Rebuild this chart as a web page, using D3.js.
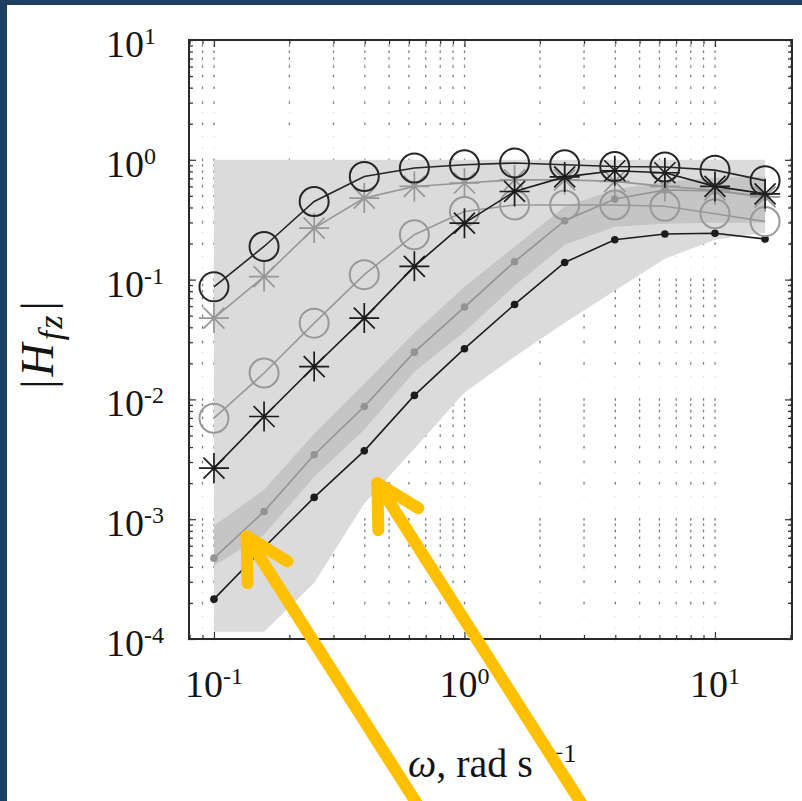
<!DOCTYPE html>
<html>
<head>
<meta charset="utf-8">
<script src="https://cdn.jsdelivr.net/npm/d3@7"></script>
<style>
  body { margin: 0; background: #fff; }
  svg { display: block; }
</style>
</head>
<body>
<div id="chart"></div>
<script>
'use strict';

// frequency points, rad/s
const omega = [0.1, 0.1585, 0.2512, 0.3981, 0.631, 1, 1.585, 2.512, 3.981, 6.31, 10, 15.85];

// |H_fz| for each curve
const blackCircles = [0.087, 0.189, 0.449, 0.726, 0.853, 0.91, 0.94, 0.91, 0.88, 0.87, 0.82, 0.67];
const grayStars = [0.0477, 0.106, 0.269, 0.479, 0.599, 0.64, 0.68, 0.68, 0.66, 0.60, 0.56, 0.49];
const grayCircles = [0.00697, 0.0166, 0.0433, 0.110, 0.237, 0.37, 0.42, 0.42, 0.42, 0.41, 0.355, 0.305];
const blackStars = [0.00267, 0.0072, 0.0188, 0.0477, 0.129, 0.296, 0.544, 0.72, 0.81, 0.78, 0.60, 0.52];
const grayDots = [0.000473, 0.00116, 0.00345, 0.00873, 0.0248, 0.0590, 0.141, 0.31, 0.47, 0.56, 0.55, 0.49];
const blackDots = [0.000215, 0.00058, 0.00152, 0.00372, 0.0108, 0.0265, 0.0620, 0.139, 0.215, 0.24, 0.244, 0.218];

// shaded envelopes
const lightBandHigh = [1, 1, 1, 1, 1, 1, 1, 1, 1, 1, 1, 1];
const lightBandLow = [0.000115, 0.000115, 0.000294, 0.00135, 0.00387, 0.0114, 0.0227, 0.0436, 0.0806, 0.149, 0.215, 0.246];
const darkBandHigh = [0.00088, 0.00176, 0.00516, 0.0135, 0.036, 0.087, 0.188, 0.405, 0.562, 0.655, 0.708, 0.721];
const darkBandLow = [0.000408, 0.000741, 0.00226, 0.00557, 0.0170, 0.0367, 0.0887, 0.195, 0.276, 0.292, 0.298, 0.298];

// tick labels (powers of ten)
const xTickExponents = ['-1', '0', '1'];
const yTickExponents = ['-4', '-3', '-2', '-1', '0', '1'];

// arrow tips (annotation), in data units
const arrowTips = [
    { w: 0.135, h: 0.00072 },
    { w: 0.449, h: 0.0020 },
];

const settings = {
    width: 802,
    height: 801,
    elId: '#chart',
};

const plot = { left: 189, right: 792, top: 40, bottom: 639 };
const serif = '"Liberation Serif", "Times New Roman", serif';

const svg = d3.select(settings.elId)
    .append('svg')
    .attr('width', settings.width)
    .attr('height', settings.height);

// frame
svg.append('rect')
    .attr('width', settings.width)
    .attr('height', settings.height)
    .attr('fill', '#1f3f60');
svg.append('rect')
    .attr('x', 7).attr('y', 5)
    .attr('width', settings.width - 7)
    .attr('height', settings.height - 5)
    .attr('fill', '#fff');

const x = d3.scaleLog().domain([0.0795, 20.3]).range([plot.left, plot.right]);
const y = d3.scaleLog().domain([1e-4, 10]).range([plot.bottom, plot.top]);

const isMajor = v => Math.abs(Math.log10(v) - Math.round(Math.log10(v))) < 1e-6;

// dotted grid: faint dotted lines, the dots showing mostly where they cross
const grid = svg.append('g').attr('class', 'grid');
grid.selectAll('.gx')
    .data(x.ticks())
    .enter().append('line')
    .attr('x1', d => x(d)).attr('x2', d => x(d))
    .attr('y1', plot.top).attr('y2', plot.bottom)
    .attr('stroke', '#c4c4c4')
    .attr('stroke-width', 0.8)
    .attr('stroke-dasharray', '1,11');
const cross = d3.cross(x.ticks(), y.ticks());
grid.selectAll('.gd')
    .data(cross)
    .enter().append('rect')
    .attr('x', d => x(d[0]) - 0.6)
    .attr('y', d => y(d[1]) - 1.2)
    .attr('width', 1.3)
    .attr('height', 2.4)
    .attr('fill', '#7c7c7c');

// envelopes
const band = (lo, hi) => d3.area()
    .x((d, i) => x(omega[i]))
    .y0((d, i) => y(lo[i]))
    .y1((d, i) => y(hi[i]));

svg.append('path')
    .attr('d', band(lightBandLow, lightBandHigh)(omega))
    .attr('fill', '#dbdbdb');
svg.append('path')
    .attr('d', band(darkBandLow, darkBandHigh)(omega))
    .attr('fill', '#c5c5c5');

// curves
const series = [
    { values: grayDots, color: '#939393', marker: 'dot' },
    { values: blackDots, color: '#1c1c1c', marker: 'dot' },
    { values: grayCircles, color: '#989898', marker: 'circle' },
    { values: grayStars, color: '#979797', marker: 'star' },
    { values: blackStars, color: '#1c1c1c', marker: 'star' },
    { values: blackCircles, color: '#262626', marker: 'circle' },
];

const line = d3.line()
    .x((d, i) => x(omega[i]))
    .y(d => y(d));

const starPath = 'M-15,0H15M0,-15V15M-10.5,-10.5L10.5,10.5M-10.5,10.5L10.5,-10.5';

series.forEach(s => {
    const g = svg.append('g');
    g.append('path')
        .attr('d', line(s.values))
        .attr('fill', 'none')
        .attr('stroke', s.color)
        .attr('stroke-width', 1.6);
    const pts = g.selectAll('.pt')
        .data(s.values)
        .enter()
        .append('g')
        .attr('transform', (d, i) => `translate(${x(omega[i])},${y(d)})`);
    if (s.marker === 'circle') {
        pts.append('circle').attr('r', 14.5)
            .attr('fill', 'none').attr('stroke', s.color).attr('stroke-width', 2);
    } else if (s.marker === 'star') {
        pts.append('path').attr('d', starPath)
            .attr('fill', 'none').attr('stroke', s.color).attr('stroke-width', 1.7);
    } else {
        pts.append('circle').attr('r', 3.8).attr('fill', s.color);
    }
});

// ticks on all four sides
const tickLen = d => isMajor(d) ? 7 : 4;
const sides = [
    { axis: d3.axisBottom(x).tickValues(x.ticks()), t: `translate(0,${plot.bottom})`, sign: -1, dim: 'y2' },
    { axis: d3.axisTop(x).tickValues(x.ticks()), t: `translate(0,${plot.top})`, sign: 1, dim: 'y2' },
    { axis: d3.axisLeft(y).tickValues(y.ticks()), t: `translate(${plot.left},0)`, sign: 1, dim: 'x2' },
    { axis: d3.axisRight(y).tickValues(y.ticks()), t: `translate(${plot.right},0)`, sign: -1, dim: 'x2' },
];
sides.forEach(s => {
    const g = svg.append('g')
        .attr('transform', s.t)
        .call(s.axis.tickFormat(''));
    g.select('.domain').remove();
    g.selectAll('.tick line')
        .attr(s.dim, d => s.sign * tickLen(d))
        .attr('stroke', '#333')
        .attr('stroke-width', 1.2);
});

// axes box
svg.append('rect')
    .attr('x', plot.left).attr('y', plot.top)
    .attr('width', plot.right - plot.left)
    .attr('height', plot.bottom - plot.top)
    .attr('fill', 'none')
    .attr('stroke', '#2a2a2a')
    .attr('stroke-width', 2);

// tick labels
const labels = svg.append('g')
    .attr('font-family', serif)
    .attr('fill', '#141414');
yTickExponents.forEach(e => {
    const t = labels.append('text')
        .attr('x', 106)
        .attr('y', y(Math.pow(10, +e)) + 17)
        .attr('font-size', 38);
    t.append('tspan').text('10');
    t.append('tspan').text(e).attr('font-size', 24).attr('dy', -13);
});
xTickExponents.forEach(e => {
    const t = labels.append('text')
        .attr('x', x(Math.pow(10, +e)))
        .attr('y', 697)
        .attr('text-anchor', 'middle')
        .attr('font-size', 38);
    t.append('tspan').text('10');
    t.append('tspan').text(e).attr('font-size', 24).attr('dy', -13);
});

// axis titles
const xt = svg.append('text')
    .attr('x', 408)
    .attr('y', 777)
    .attr('font-family', serif)
    .attr('font-size', 40)
    .attr('fill', '#141414');
xt.append('tspan').text('\u03c9').attr('font-style', 'italic');
xt.append('tspan').text(', rad s');
xt.append('tspan').text('\u22121').attr('font-size', 26).attr('dx', 16).attr('dy', -15);

const yt = svg.append('text')
    .attr('transform', 'translate(53,345) rotate(-90)')
    .attr('text-anchor', 'middle')
    .attr('font-family', serif)
    .attr('font-size', 46)
    .attr('fill', '#141414');
yt.append('tspan').text('|');
yt.append('tspan').text('H').attr('font-style', 'italic').attr('dx', 3);
yt.append('tspan').text('f').attr('font-style', 'italic').attr('font-size', 34).attr('dy', 9).attr('dx', 3);
yt.append('tspan').text('z').attr('font-style', 'italic').attr('font-size', 34).attr('dx', 2);
yt.append('tspan').text('|').attr('dy', -9).attr('dx', 5);

// yellow arrows
const arrows = svg.append('g')
    .attr('fill', 'none')
    .attr('stroke', '#ffc000')
    .attr('stroke-width', 12)
    .attr('stroke-linecap', 'round')
    .attr('stroke-linejoin', 'round');
const shaftAngle = 57.5 * Math.PI / 180;
arrowTips.forEach(a => {
    const tx = x(a.w), ty = y(a.h);
    const len = (settings.height + 20 - ty) / Math.sin(shaftAngle);
    arrows.append('path')
        .attr('d', `M${tx},${ty}L${tx + len * Math.cos(shaftAngle)},${ty + len * Math.sin(shaftAngle)}`);
    arrows.append('path')
        .attr('d', `M${tx + 1},${ty + 47}L${tx},${ty}L${tx + 41},${ty + 25}`);
});
</script>
</body>
</html>
